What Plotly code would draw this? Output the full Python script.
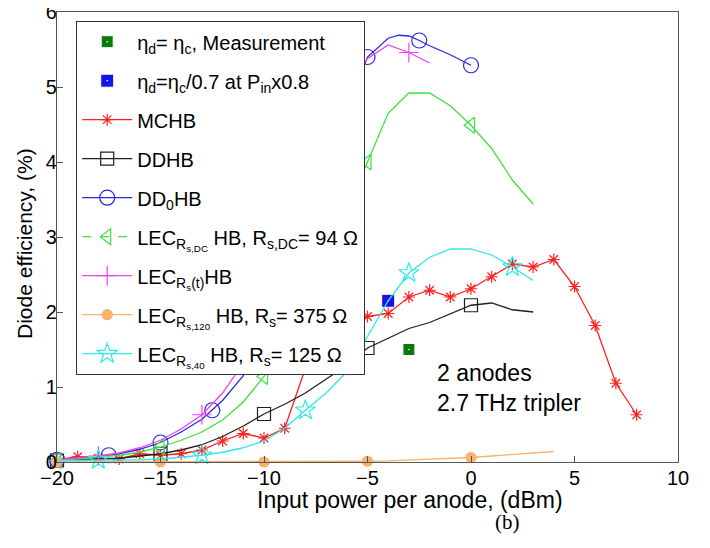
import plotly.graph_objects as go

# ---------------- data ----------------
mchb_x = list(range(-20, 9))
mchb_y = [0.03, 0.07, 0.05, 0.04, 0.11, 0.09, 0.11, 0.16, 0.28, 0.38, 0.32, 0.45,
          1.25, 1.40, 1.80, 1.94, 1.98, 2.20, 2.29, 2.20, 2.31, 2.47, 2.64, 2.60,
          2.70, 2.34, 1.82, 1.05, 0.63]

ddhb_x = list(range(-20, 4))
ddhb_y = [0.02, 0.03, 0.04, 0.05, 0.08, 0.11, 0.16, 0.23, 0.34, 0.48, 0.64, 0.77,
          0.92, 1.10, 1.29, 1.52, 1.65, 1.78, 1.86, 1.98, 2.09, 2.12, 2.03, 2.00]
ddhb_mx = [-20, -15, -10, -5, 0]

dd0_x = [-20, -19, -18, -17.5, -17, -16, -15, -14, -13, -12.5, -12, -11, -10, -9, -8,
         -7.5, -7, -6, -5, -4, -3.5, -3, -2.5, -2, -1, 0]
dd0_y = [0.03, 0.05, 0.07, 0.09, 0.11, 0.17, 0.26, 0.40, 0.57, 0.69, 0.82, 1.15, 1.64,
         2.30, 3.05, 3.46, 3.86, 4.65, 5.40, 5.65, 5.69, 5.68, 5.62, 5.55, 5.43, 5.29]
dd0_mx = [-20, -17.5, -15, -12.5, -10, -7.5, -5, -2.5, 0]

lecdc_x = list(range(-20, 4))
lecdc_y = [0.02, 0.04, 0.06, 0.09, 0.13, 0.20, 0.29, 0.40, 0.56, 0.80, 1.14, 1.62,
           2.14, 2.68, 3.35, 4.00, 4.65, 4.92, 4.92, 4.75, 4.49, 4.18, 3.76, 3.44]
lecdc_mx = [-20, -15, -10, -5, 0]

lect_x = list(range(-20, -1))
lect_y = [0.03, 0.05, 0.08, 0.12, 0.19, 0.29, 0.44, 0.63, 0.92, 1.32, 1.88, 2.60,
          3.29, 4.16, 4.95, 5.38, 5.56, 5.46, 5.32]
lect_mx = [-18, -13, -8, -3]

lec120_x = [-20, -15, -10, -7, -5, -4, -3, -2, -1, 0, 1, 2, 3, 4]
lec120_y = [0.0, 0.0, 0.0, 0.005, 0.01, 0.015, 0.025, 0.035, 0.045, 0.06, 0.08, 0.10,
            0.12, 0.14]
lec120_mx = [-20, -15, -10, -5, 0]

lec40_x = list(range(-20, 4))
lec40_y = [0.02, 0.02, 0.03, 0.03, 0.03, 0.04, 0.06, 0.09, 0.13, 0.19, 0.28, 0.45,
           0.69, 0.92, 1.20, 1.68, 2.15, 2.52, 2.73, 2.84, 2.84, 2.76, 2.60, 2.42]
lec40_mx = [-18, -13, -8, -3, 2]

meas_x = [-3]
meas_y = [1.5]
scaled_x = [-4]
scaled_y = [2.15]

x_ticks = [-20, -15, -10, -5, 0, 5, 10]
x_tick_text = ["−20", "−15", "−10", "−5", "0", "5", "10"]
y_ticks = [0, 1, 2, 3, 4, 5, 6]

# ---------------- styles ----------------
C_RED = "#ff2020"
C_BLACK = "#202020"
C_BLUE = "#2a2ae0"
C_GREEN = "#3fe03f"
C_MAG = "#f040f0"
C_ORANGE = "#f7b36b"
C_CYAN = "#30e8e8"

# the page body adds an 8 px offset, so the figure is drawn 8 px smaller
OFF = 8
W, H = 710 - OFF, 548 - OFF
ML, MR, MT, MB = 57 - OFF, 32, 12 - OFF, 86
PW, PH = W - ML - MR, H - MT - MB   # 621 x 450
X0, YB = 57, 462                    # plot-area left / bottom in page pixels

fig = go.Figure()


def pick(xs, ys, mx):
    d = dict(zip(xs, ys))
    return mx, [d[v] for v in mx]


def series(name, grp, xs, ys, mx, color, symbol, msize, mline=1.2, dash="solid"):
    mxx, myy = pick(xs, ys, mx) if mx is not None else (xs, ys)
    fig.add_trace(go.Scatter(x=xs, y=ys, mode="lines", line=dict(color=color, width=1.3),
                             legendgroup=grp, showlegend=False, hoverinfo="skip",
                             cliponaxis=False))
    mk = dict(symbol=symbol, size=msize, color=color, line=dict(color=color, width=mline))
    fig.add_trace(go.Scatter(x=mxx, y=myy, mode="markers", marker=mk, legendgroup=grp,
                             showlegend=False, cliponaxis=False))
    fig.add_trace(go.Scatter(x=[None], y=[None], mode="lines+markers", name=name,
                             legendgroup=grp,
                             line=dict(color=color, width=1.3, dash=dash), marker=mk))


# measurement points
fig.add_trace(go.Scatter(x=meas_x, y=meas_y, mode="markers", cliponaxis=False,
                         legendgroup="g1",
                         name="η<sub>d</sub>= η<sub>c</sub>, Measurement",
                         marker=dict(symbol="square-dot", size=12, color="#0a7a0a",
                                     line=dict(color="white", width=1))))
fig.add_trace(go.Scatter(x=scaled_x, y=scaled_y, mode="markers", cliponaxis=False,
                         legendgroup="g2",
                         name="η<sub>d</sub>=η<sub>c</sub>/0.7 at P<sub>in</sub>x0.8",
                         marker=dict(symbol="square-dot", size=13, color="#1414e6",
                                     line=dict(color="white", width=1))))

series("MCHB", "g3", mchb_x, mchb_y, None, C_RED, "asterisk-open", 10)
series("DDHB", "g4", ddhb_x, ddhb_y, ddhb_mx, C_BLACK, "square-open", 13)
series("DD<sub>0</sub>HB", "g5", dd0_x, dd0_y, dd0_mx, C_BLUE, "circle-open", 15)
series("LEC<sub>R<sub>s,DC</sub></sub> HB, R<sub>s,DC</sub>= 94 Ω", "g6", lecdc_x,
       lecdc_y, lecdc_mx, C_GREEN, "triangle-left-open", 14, dash="dash")
series("LEC<sub>R<sub>s</sub>(t)</sub>HB", "g7", lect_x, lect_y, lect_mx, C_MAG,
       "cross-thin-open", 14)
series("LEC<sub>R<sub>s,120</sub></sub> HB, R<sub>s</sub>= 375 Ω", "g8", lec120_x,
       lec120_y, lec120_mx, C_ORANGE, "circle", 10)
series("LEC<sub>R<sub>s,40</sub></sub> HB, R<sub>s</sub>= 125 Ω", "g9", lec40_x, lec40_y,
       lec40_mx, C_CYAN, "star-open", 15)

FONT = "Liberation Sans, Arial, sans-serif"
axis_common = dict(showline=True, mirror=True, linecolor="#555555", linewidth=1.2,
                   ticks="inside", ticklen=6, tickcolor="#555555", showgrid=False,
                   zeroline=False, automargin=False,
                   tickfont=dict(size=20, color="black"))

fig.update_layout(
    width=W, height=H,
    margin=dict(l=ML, r=MR, t=MT, b=MB, autoexpand=False),
    paper_bgcolor="white", plot_bgcolor="white",
    font=dict(family=FONT, size=20, color="black"),
    xaxis=dict(range=[-20, 10], tickvals=x_ticks, ticktext=x_tick_text,
               ticklabelstandoff=-2, **axis_common),
    yaxis=dict(range=[0, 6], tickvals=y_ticks, ticklabelstandoff=-5,
               ticklabeloverflow="allow", **axis_common),
    legend=dict(x=(76 - X0) / PW, y=(YB - 21) / PH, xanchor="left", yanchor="top",
                bgcolor="white", bordercolor="#333333", borderwidth=1.2,
                font=dict(size=20), itemwidth=50, traceorder="grouped",
                tracegroupgap=10),
    showlegend=True,
)

# axis titles
fig.add_annotation(x=(410 - X0) / PW, y=-(500 - YB) / PH, xref="paper", yref="paper",
                   showarrow=False, xanchor="center", yanchor="middle",
                   text="Input power per anode, (dBm)", font=dict(size=23))
fig.add_annotation(x=-(X0 - 24) / PW, y=(YB - 244) / PH, xref="paper", yref="paper",
                   showarrow=False, xanchor="center", yanchor="middle", textangle=-90,
                   text="Diode efficiency, (%)", font=dict(size=21))

fig.add_annotation(x=-1.75, y=0.99, xref="x", yref="y", xanchor="left", yanchor="middle",
                   text="2 anodes<br>2.7 THz tripler", showarrow=False, align="left",
                   font=dict(size=23, color="black"))
fig.add_annotation(x=(507 - X0) / PW, y=-(522 - YB) / PH, xref="paper", yref="paper",
                   showarrow=False, xanchor="center", yanchor="middle", text="(b)",
                   font=dict(family="Liberation Serif, Times New Roman, serif",
                             size=21, color="black"))

fig.write_html("out.html")
